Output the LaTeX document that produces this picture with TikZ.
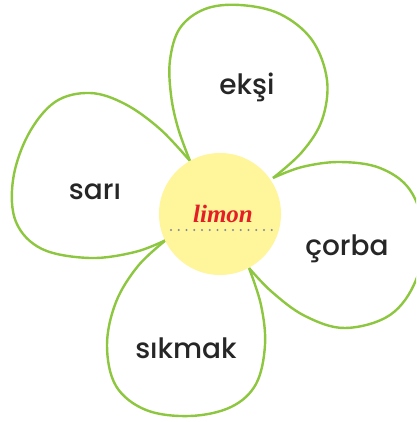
\documentclass[tikz,border=0pt]{standalone}
\usepackage{fontspec}
\setmainfont{Poppins}[BoldFont={* Medium}]
\newfontfamily\limonfont{Liberation Serif}
\definecolor{yaprak}{RGB}{141,198,63}
\definecolor{gobek}{RGB}{255,245,155}
\definecolor{limonkirmizi}{RGB}{228,30,38}
\definecolor{noktagri}{RGB}{130,135,150}
\tikzset{
  yaprakcizgi/.style={draw=yaprak, line width=2.4pt, fill=white, line join=round},
  kelime/.style={anchor=base, font=\bfseries\fontsize{28}{30}\selectfont, text=black!85},
}
\begin{document}
\begin{tikzpicture}[x=1pt, y=-1pt]
    \useasboundingbox (0,0) rectangle (416,422);
    \clip (0,0) rectangle (416,422);

    % Yaprak uclari (gobek kenarinda)
    \coordinate (uc_ust_sol) at (190,161);
    \coordinate (uc_ust_sag) at (273,178);
    \coordinate (uc_alt_sag) at (249,268);
    \coordinate (uc_alt_sol) at (166,240);

    % Ust yaprak
    \draw[yaprakcizgi] plot[smooth, tension=0.6] coordinates {
        (uc_ust_sol) (178,128) (171,95) (170,60) (180,28) (205,9) (240,5)
        (280,14) (312,40) (327,80) (322,120) (302,152) (uc_ust_sag)};

    % Sol yaprak
    \draw[yaprakcizgi] plot[smooth, tension=0.6] coordinates {
        (uc_ust_sol) (160,129) (125,104) (90,93) (55,102) (28,135)
        (13,180) (16,222) (42,249) (90,258) (135,252) (uc_alt_sol)};

    % Sag yaprak
    \draw[yaprakcizgi] plot[smooth, tension=0.6] coordinates {
        (uc_ust_sag) (302,167) (340,162) (380,168) (410,190) (424,232)
        (416,280) (390,315) (345,328) (305,316) (272,292) (uc_alt_sag)};

    % Alt yaprak
    \draw[yaprakcizgi] plot[smooth, tension=0.6] coordinates {
        (uc_alt_sol) (138,266) (116,302) (107,345) (116,386) (146,410)
        (190,416) (231,407) (256,384) (265,345) (261,305) (uc_alt_sag)};

    % Gobek
    \node[circle, fill=gobek, minimum size=122pt, inner sep=0pt] (gobek) at (220,214) {};
    \node[anchor=base, text=limonkirmizi, font=\limonfont\bfseries\itshape\fontsize{25}{27}\selectfont]
        (limon) at (223,222) {limon};
    \coordinate (nokta_bas) at (171,230);
    \coordinate (nokta_son) at (272,230);
    \draw[noktagri, line width=2.2pt, line cap=round, dash pattern=on 0pt off 7.75pt]
        (nokta_bas) -- (nokta_son);

    % Kelimeler
    \node[kelime] (eksi) at (247,95) {ekşi};
    \node[kelime] (sari) at (95,199) {sarı};
    \node[kelime] (corba) at (347,255) {çorba};
    \node[kelime] (sikmak) at (186,358) {sıkmak};
\end{tikzpicture}
\end{document}
